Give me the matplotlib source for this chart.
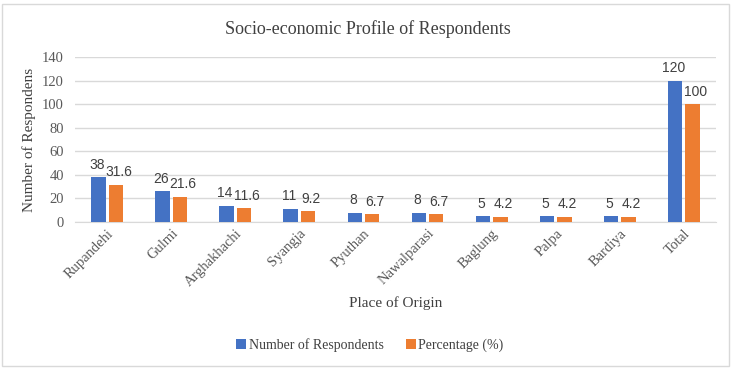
import numpy as np
import matplotlib.pyplot as plt
from matplotlib.patches import Rectangle

# Data
places = ["Rupandehi", "Gulmi", "Arghakhachi", "Syangja", "Pyuthan",
          "Nawalparasi", "Baglung", "Palpa", "Bardiya", "Total"]
respondents = [38, 26, 14, 11, 8, 8, 5, 5, 5, 120]
percentage = [31.6, 21.6, 11.6, 9.2, 6.7, 6.7, 4.2, 4.2, 4.2, 100]

blue = "#4472C4"
orange = "#ED7D31"
serif = "Liberation Serif"
label_font = ["Liberation Sans Narrow", "Liberation Sans"]

fig = plt.figure(figsize=(7.37, 3.71), dpi=100)
ax = fig.add_axes([75 / 737, 1 - 222 / 371, 641 / 737, 165 / 371])

x = np.arange(len(places))
w = 0.225
off = 0.136
b1 = ax.bar(x - off, respondents, w, color=blue, label="Number of Respondents", zorder=3)
b2 = ax.bar(x + off, percentage, w, color=orange, label="Percentage (%)", zorder=3)

# value labels; percentage labels sit slightly right, like the original
for bars, vals, dx in [(b1, respondents, -1), (b2, percentage, 2)]:
    for rect, v in zip(bars, vals):
        ax.annotate(f"{v:g}", (rect.get_x() + rect.get_width() / 2, v), xytext=(dx, 4),
                    textcoords="offset points", ha="center", va="bottom",
                    fontsize=10, family=label_font, color="#404040")

ax.set_xlim(-0.5, len(places) - 0.5)
ax.set_ylim(0, 140)
ax.set_yticks(range(0, 141, 20))
ax.yaxis.grid(True, color="#d9d9d9", linewidth=1, zorder=0)
ax.set_axisbelow(True)
for s in ["top", "right", "left"]:
    ax.spines[s].set_visible(False)
ax.spines["bottom"].set_color("#d9d9d9")
ax.tick_params(axis="both", length=0, labelcolor="#595959", labelsize=10.5)
ax.tick_params(axis="y", pad=8)
ax.set_xticks(x)
ax.set_xticklabels(places, rotation=45, ha="right", rotation_mode="anchor", family=serif)
for t in ax.get_yticklabels():
    t.set_family(serif)

ax.set_ylabel("Number of Respondens", family=serif, fontsize=11, color="#404040", labelpad=4)
fig.text(0.5 * (75 + 716) / 737, 1 - 303 / 371, "Place of Origin", ha="center", va="center",
         family=serif, fontsize=11, color="#404040")
fig.text(368 / 737, 1 - 29 / 371, "Socio-economic Profile of Respondents", ha="center", va="center",
         family=serif, fontsize=13, color="#404040")

leg = fig.legend(loc="center", bbox_to_anchor=(370 / 737, 1 - 345 / 371), ncol=2,
                 frameon=False, prop={"family": serif, "size": 10}, handlelength=0.7,
                 handleheight=0.7, handletextpad=0.2, columnspacing=1.6)
for t in leg.get_texts():
    t.set_color("#404040")

fig.patches.append(Rectangle((2 / 737, 1 - 366 / 371), 727 / 737, 362 / 371,
                             transform=fig.transFigure, fill=False, edgecolor="#d9d9d9", linewidth=1))

fig.savefig("out.png", dpi=100)
